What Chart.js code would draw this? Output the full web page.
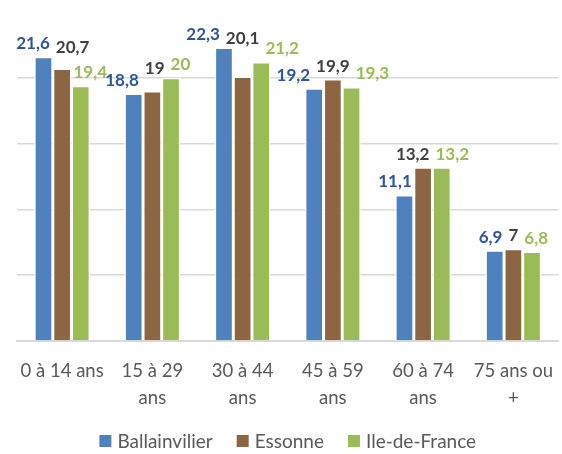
<!DOCTYPE html>
<html>
<head>
<meta charset="utf-8">
<script src="https://cdn.jsdelivr.net/npm/chart.js@4.4.0/dist/chart.umd.min.js"></script>
<style>
    html, body { margin: 0; padding: 0; background: #fff; }
    #wrap { width: 562px; height: 454px; }
</style>
</head>
<body>
<div id="wrap"><canvas id="age-chart"></canvas></div>
<script>
    "use strict";

    // Data
    var categories = [["0 à 14 ans"], ["15 à 29", "ans"], ["30 à 44", "ans"], ["45 à 59", "ans"], ["60 à 74", "ans"], ["75 ans ou", "+"]];
    var ballainvilier = [21.6, 18.8, 22.3, 19.2, 11.1, 6.9];
    var essonne = [20.7, 19, 20.1, 19.9, 13.2, 7];
    var ileDeFrance = [19.4, 20, 21.2, 19.3, 13.2, 6.8];

    var labelColors = ["#2F5597", "#404040", "#9BBB59"];

    // Value labels above bars; they step aside when they would cover a
    // neighbouring bar or another label
    var valueLabels = {
        id: "valueLabels",
        afterDatasetsDraw: function (chart) {
            var ctx = chart.ctx;
            ctx.save();
            ctx.font = "bold 17px Lato";
            ctx.textAlign = "center";
            ctx.textBaseline = "middle";
            var h = 15;
            var n = chart.data.datasets.length;
            for (var i = 0; i < chart.data.labels.length; i++) {
                var bars = [], boxes = [];
                chart.data.datasets.forEach(function (ds, d) {
                    var bar = chart.getDatasetMeta(d).data[i];
                    var txt = String(ds.data[i]).replace(".", ",");
                    bars.push({ left: bar.x - bar.width / 2, right: bar.x + bar.width / 2, top: bar.y });
                    boxes.push({ x: bar.x, y: bar.y - 13, w: ctx.measureText(txt).width, t: txt, c: labelColors[d] });
                });
                // keep clear of the other bars
                boxes.forEach(function (b, j) {
                    for (var m = 0; m < n; m++) {
                        if (m === j) continue;
                        var r = bars[m];
                        var hit = b.y + h / 2 > r.top - 2 && b.x + b.w / 2 > r.left - 2 && b.x - b.w / 2 < r.right + 2;
                        if (!hit) continue;
                        if (j === 0) b.x = Math.min(b.x, r.left - 2 - b.w / 2);
                        else if (j === n - 1) b.x = Math.max(b.x, r.right + 2 + b.w / 2);
                        else b.y = Math.min(b.y, r.top - 2 - h / 2);
                    }
                });
                // keep labels apart
                for (var k = 0; k < 10; k++) {
                    for (var a = 0; a < n - 1; a++) {
                        var p = boxes[a], q = boxes[a + 1];
                        var need = (p.w + q.w) / 2 + 6 - (q.x - p.x);
                        if (need > 0 && Math.abs(p.y - q.y) < h) {
                            p.x -= need / 2;
                            q.x += need / 2;
                        }
                    }
                }
                boxes.forEach(function (b) {
                    ctx.fillStyle = b.c;
                    ctx.fillText(b.t, b.x, b.y);
                });
            }
            ctx.restore();
        }
    };

    // Legend at the bottom, drawn by hand for Excel-like spacing
    var bottomLegend = {
        id: "bottomLegend",
        afterDraw: function (chart) {
            var ctx = chart.ctx;
            var box = 12, gap = 6, itemGap = 24, y = 441;
            ctx.save();
            ctx.font = "19px Lato";
            ctx.textBaseline = "middle";
            var items = chart.data.datasets.map(function (ds) {
                return { t: ds.label, c: ds.backgroundColor, w: box + gap + ctx.measureText(ds.label).width };
            });
            var total = items.reduce(function (s, it) { return s + it.w; }, 0) + itemGap * (items.length - 1);
            var x = (chart.chartArea.left + chart.chartArea.right) / 2 - total / 2;
            items.forEach(function (it) {
                ctx.fillStyle = it.c;
                ctx.fillRect(x, y - box / 2, box, box);
                ctx.fillStyle = "#595959";
                ctx.fillText(it.t, x + box + gap, y + 1);
                x += it.w + itemGap;
            });
            ctx.restore();
        }
    };

    var ctx1 = document.getElementById("age-chart").getContext("2d");
    var myChart1 = new Chart(ctx1, {
        type: "bar",
        data: {
            labels: categories,
            datasets: [{
                    label: "Ballainvilier",
                    data: ballainvilier,
                    backgroundColor: "#4F81BD"
                },
                {
                    label: "Essonne",
                    data: essonne,
                    backgroundColor: "#8C6642"
                },
                {
                    label: "Ile-de-France",
                    data: ileDeFrance,
                    backgroundColor: "#9BBB59"
                }
            ]
        },
        options: {
            responsive: true,
            maintainAspectRatio: false,
            animation: false,
            layout: { padding: { left: 17, right: 0, top: 12, bottom: 33 } },
            datasets: {
                bar: {
                    categoryPercentage: 0.62,
                    barPercentage: 1,
                    borderColor: "#ffffff",
                    borderWidth: 1.5
                }
            },
            scales: {
                x: {
                    grid: { display: false },
                    border: { color: "#d9d9d9", width: 2 },
                    ticks: {
                        color: "#595959",
                        font: { family: "Lato", size: 18.5, lineHeight: 1.46 },
                        padding: 9,
                        maxRotation: 0
                    }
                },
                y: {
                    min: 0,
                    max: 25,
                    ticks: { display: false, stepSize: 5 },
                    grid: {
                        color: function (c) { return c.tick.value >= 25 ? "rgba(0,0,0,0)" : "#d9d9d9"; },
                        lineWidth: 1.5,
                        drawTicks: false
                    },
                    border: { display: false }
                }
            },
            plugins: {
                legend: { display: false },
                tooltip: { enabled: false }
            }
        },
        plugins: [valueLabels, bottomLegend]
    });
</script>
</body>
</html>
